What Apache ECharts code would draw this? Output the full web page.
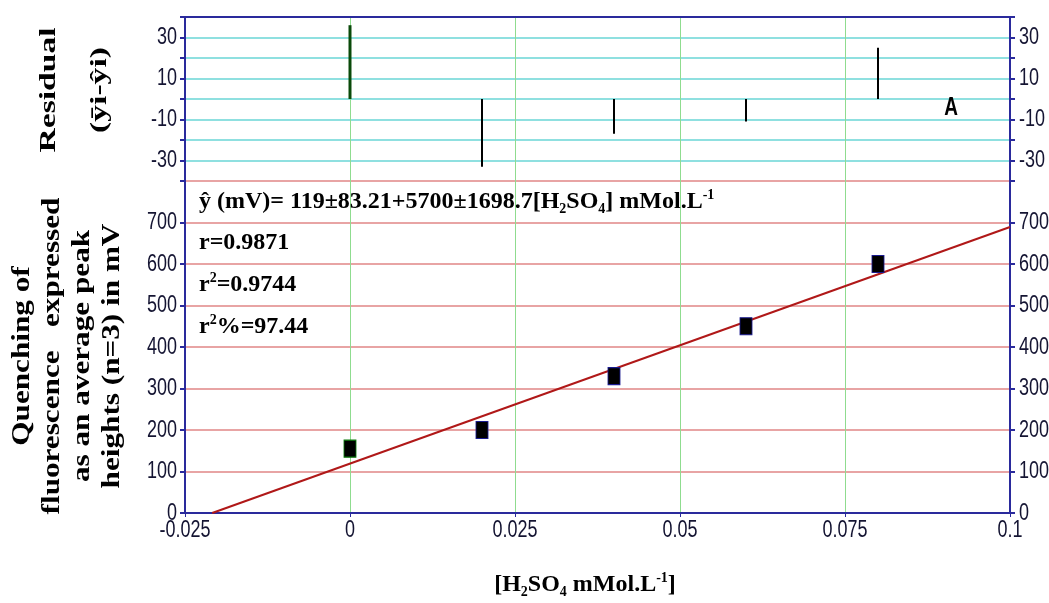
<!DOCTYPE html>
<html>
<head>
<meta charset="utf-8">
<script src="https://cdn.jsdelivr.net/npm/echarts@6/dist/echarts.min.js"></script>
<style>
  html, body { margin: 0; padding: 0; background: #ffffff; }
  #chart { width: 1049px; height: 603px; }
</style>
</head>
<body>
<div id="chart"></div>
<script>
// Calibration data: H2SO4 concentration (mMol/L) vs. quenching peak height (mV)
const concentrations = [0, 0.02, 0.04, 0.06, 0.08];
const peakHeights = [155, 200, 330, 450, 600];
const residuals = [36, -33, -17, -11, 25];
const markerBorders = ['#0a7a0a', '#1a1a90', '#1a1a90', '#1a1a90', '#1a1a90'];
const residualColors = ['#0a4a0a', '#000000', '#000000', '#000000', '#000000'];

// Fitted regression line  y = intercept + slope * x
const intercept = 119;
const slope = 5700;

// Axis ranges and tick labels
const xRange = { min: -0.025, max: 0.1, interval: 0.025 };
const xTickLabels = [-0.025, 0, 0.025, 0.05, 0.075, 0.1];
const residualRange = { min: -40, max: 40, interval: 10 };
const residualTickLabels = [30, 10, -10, -30];
const heightRange = { min: 0, max: 800, interval: 100 };
const heightTickLabels = [0, 100, 200, 300, 400, 500, 600, 700];

// Annotation text
const equationText = '\u0177 (mV)= 119\u00b183.21+5700\u00b11698.7[H{sub|2}SO{sub|4}] mMol.L{sup|-1}';
const statLines = ['r=0.9871', 'r{sup|2}=0.9744', 'r{sup|2}%=97.44'];
const yTitleLines = ['Quenching of', 'fluorescence   expressed', 'as an average peak', 'heights (n=3) in mV'];

const AXIS_BLUE = '#2a2a9c';
const LABEL_COLOR = '#141432';
const TICK_FONT = "'Liberation Sans', Arial, sans-serif";
const SERIF = "'Liberation Serif', 'Times New Roman', serif";

const fitLine = [
  [-intercept / slope, 0],
  [xRange.max, intercept + slope * xRange.max]
];

const chart = echarts.init(document.getElementById('chart'), null, { renderer: 'canvas' });

const richScripts = {
  sub: { fontSize: 14, lineHeight: 12, verticalAlign: 'bottom', fontWeight: 'bold', fontFamily: SERIF, color: '#000' },
  sup: { fontSize: 14, lineHeight: 12, verticalAlign: 'top', fontWeight: 'bold', fontFamily: SERIF, color: '#000' }
};

function yAxisBase(range, pos, grid, splitColor) {
  return {
    type: 'value', gridIndex: grid, position: pos,
    min: range.min, max: range.max, interval: range.interval,
    axisLine: { show: true, onZero: false, lineStyle: { color: AXIS_BLUE, width: 2 } },
    axisTick: { show: true, inside: false, length: 5, lineStyle: { color: AXIS_BLUE, width: 2 } },
    axisLabel: { show: false },
    splitLine: { show: pos === 'left', lineStyle: { color: splitColor, width: 2 } }
  };
}

const option = {
  backgroundColor: '#ffffff',
  animation: false,
  grid: [
    { left: 185, right: 39, top: 17, height: 164 },
    { left: 185, right: 39, top: 181, height: 332 }
  ],
  xAxis: [
    {
      type: 'value', gridIndex: 0, position: 'top',
      min: xRange.min, max: xRange.max, interval: xRange.interval,
      axisLine: { show: true, onZero: false, lineStyle: { color: AXIS_BLUE, width: 2 } },
      axisTick: { show: false }, axisLabel: { show: false },
      splitLine: { show: true, lineStyle: { color: '#8fdc8f', width: 1 } }
    },
    {
      type: 'value', gridIndex: 1, position: 'bottom',
      min: xRange.min, max: xRange.max, interval: xRange.interval,
      axisLine: { show: true, onZero: false, lineStyle: { color: AXIS_BLUE, width: 2 } },
      axisTick: { show: true, length: 4, lineStyle: { color: AXIS_BLUE, width: 1 } },
      axisLabel: { show: false },
      splitLine: { show: true, lineStyle: { color: '#8fdc8f', width: 1 } }
    }
  ],
  yAxis: [
    yAxisBase(residualRange, 'left', 0, '#8fe0e0'),
    yAxisBase(residualRange, 'right', 0, '#8fe0e0'),
    yAxisBase(heightRange, 'left', 1, '#e8a4a4'),
    yAxisBase(heightRange, 'right', 1, '#e8a4a4')
  ],
  series: [
    {
      name: 'Residual',
      type: 'custom',
      xAxisIndex: 0, yAxisIndex: 0,
      data: concentrations.map((c, i) => [c, residuals[i], i]),
      renderItem: function (params, api) {
        const idx = api.value(2);
        const base = api.coord([api.value(0), 0]);
        const tip = api.coord([api.value(0), api.value(1)]);
        return {
          type: 'line',
          shape: { x1: base[0], y1: base[1], x2: tip[0], y2: tip[1] },
          style: { stroke: residualColors[idx], lineWidth: idx === 0 ? 3 : 2 }
        };
      },
      z: 5
    },
    {
      name: 'Fit',
      type: 'line',
      xAxisIndex: 1, yAxisIndex: 2,
      data: fitLine,
      symbol: 'none',
      lineStyle: { color: '#b01818', width: 2 },
      z: 4
    },
    {
      name: 'Peak height',
      type: 'scatter',
      xAxisIndex: 1, yAxisIndex: 2,
      data: concentrations.map((c, i) => ({
        value: [c, peakHeights[i]],
        itemStyle: { color: '#000000', borderColor: markerBorders[i], borderWidth: 1, opacity: 1 }
      })),
      symbol: 'rect',
      symbolSize: [12, 17],
      z: 6
    }
  ]
};

chart.setOption(option);

// Narrow, tall tick-label lettering
function tickText(x, y, text, align) {
  return {
    type: 'text', x: x, y: y, scaleY: 1.32, originX: 0, originY: 0,
    style: { text: text, font: '18px ' + TICK_FONT, fill: LABEL_COLOR, align: align, verticalAlign: 'middle' },
    z: 10
  };
}

const grid0 = option.grid[0];
const plotLeft = grid0.left;
const plotRight = 1049 - grid0.right;
const graphics = [];

residualTickLabels.forEach(v => {
  const y = chart.convertToPixel({ yAxisIndex: 0 }, v);
  graphics.push(tickText(plotLeft - 8, y, String(v), 'right'));
  graphics.push(tickText(plotRight + 9, y, String(v), 'left'));
});
heightTickLabels.forEach(v => {
  const y = chart.convertToPixel({ yAxisIndex: 2 }, v);
  graphics.push(tickText(plotLeft - 8, y, String(v), 'right'));
  graphics.push(tickText(plotRight + 9, y, String(v), 'left'));
});
const xBase = chart.convertToPixel({ yAxisIndex: 2 }, heightRange.min);
xTickLabels.forEach(v => {
  const x = chart.convertToPixel({ xAxisIndex: 1 }, v);
  graphics.push(tickText(x, xBase + 17, String(v), 'center'));
});

// residual panel axis title
graphics.push({
  type: 'text', x: 49, y: 90, rotation: Math.PI / 2, scaleX: 1.4,
  style: { text: 'Residual', font: 'bold 24px ' + SERIF, fill: '#000', align: 'center', verticalAlign: 'middle' }
});
graphics.push({
  type: 'text', x: 100, y: 90, rotation: Math.PI / 2, scaleX: 1.4,
  style: { text: '(\u0233i-\u0177i)', font: 'bold 24px ' + SERIF, fill: '#000', align: 'center', verticalAlign: 'middle' }
});
// lower panel axis title
yTitleLines.forEach((t, i) => {
  graphics.push({
    type: 'text', x: 22 + i * 30, y: 356, rotation: Math.PI / 2, scaleX: 1.2,
    style: { text: t, font: 'bold 26px ' + SERIF, fill: '#000', align: 'center', verticalAlign: 'middle' }
  });
});
// x axis title
graphics.push({
  type: 'text', x: 585, y: 585,
  style: {
    text: '[H{sub|2}SO{sub|4} mMol.L{sup|-1}]',
    font: 'bold 24px ' + SERIF, fill: '#000', align: 'center', verticalAlign: 'middle',
    lineHeight: 28, rich: richScripts
  }
});
// regression equation and statistics
graphics.push({
  type: 'text', x: 199, y: 202,
  style: {
    text: equationText, font: 'bold 24px ' + SERIF, fill: '#000', align: 'left', verticalAlign: 'middle',
    lineHeight: 28, rich: richScripts
  }
});
statLines.forEach((t, i) => {
  graphics.push({
    type: 'text', x: 199, y: 243 + i * 42,
    style: {
      text: t, font: 'bold 24px ' + SERIF, fill: '#000', align: 'left', verticalAlign: 'middle',
      lineHeight: 28, rich: richScripts
    }
  });
});
// panel tag
graphics.push({
  type: 'text', x: 951, y: 108, scaleY: 1.4,
  style: { text: 'A', font: 'bold 19px ' + TICK_FONT, fill: '#000', align: 'center', verticalAlign: 'middle' }
});

chart.setOption({ graphic: graphics });
</script>
</body>
</html>
